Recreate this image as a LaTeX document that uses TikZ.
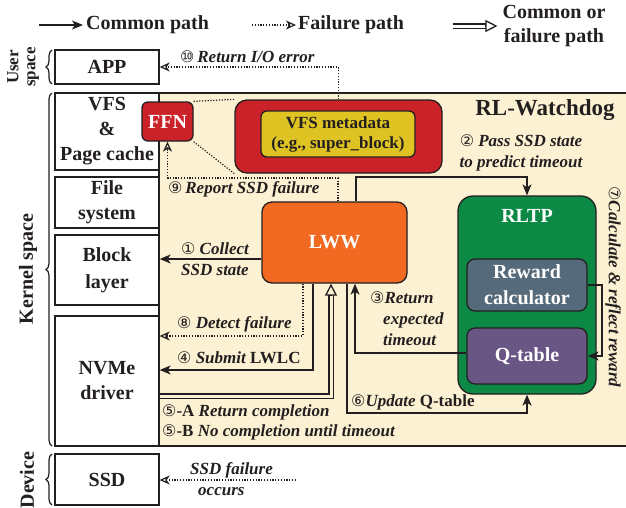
\documentclass[tikz,border=0pt]{standalone}
\usepackage{fontspec}
\setmainfont{Liberation Serif}
\newfontfamily\dvfont{DejaVu Sans}
\usetikzlibrary{arrows.meta,decorations.pathreplacing}
\definecolor{beige}{HTML}{FCF1D2}
\definecolor{linec}{HTML}{231F20}
\definecolor{redc}{HTML}{CB2128}
\definecolor{yelc}{HTML}{DFC322}
\definecolor{orac}{HTML}{F26A22}
\definecolor{grnc}{HTML}{0C8A45}
\definecolor{slatec}{HTML}{556A7A}
\definecolor{purc}{HTML}{6A5684}
\newcommand\cnum[1]{{\dvfont\mdseries\upshape\fontsize{16}{16}\selectfont #1}}
\begin{document}
\begin{tikzpicture}[x=1pt,y=-1pt,
  col/.style={draw=linec, line width=1.3pt, fill=white, font=\fontsize{20}{25}\selectfont\bfseries, align=center, inner sep=0pt, text=linec},
  rbox/.style={draw=linec, line width=1.3pt, rounded corners=8pt, text=white, font=\fontsize{20}{26}\selectfont\bfseries, align=center, inner sep=0pt},
  lab/.style={font=\fontsize{17}{21}\selectfont\bfseries\itshape, inner sep=0pt, text=linec},
  legt/.style={font=\fontsize{20}{24}\selectfont\bfseries, inner sep=0pt, text=linec},
  side/.style={font=\fontsize{20}{17}\selectfont\bfseries, inner sep=0pt, text=linec, align=center},
  conn/.style={line width=1.2pt, draw=linec, -{Stealth[length=11pt,width=9pt,inset=3pt]}},
  fail/.style={line width=1.2pt, draw=linec, dash pattern=on 1.2pt off 1.6pt, -{Stealth[open,length=10pt,width=9pt,inset=3pt]}},
  dotl/.style={line width=1.2pt, draw=linec, dash pattern=on 1.2pt off 1.6pt},
  dshaft/.style={draw=linec, line width=1.3pt, double=beige, double distance=3pt},
  dtip/.style={draw=linec, line width=1.3pt, -{Triangle[open,length=12pt,width=12pt]}},
  brace/.style={draw=linec, line width=1.2pt, decorate, decoration={brace, amplitude=6pt}}
]
\useasboundingbox (0,0) rectangle (626,507);
% legend
\node[legt, anchor=west] (lg1) at (86,25) {Common path};
\coordinate (lg1s) at (39,25);
\draw[conn, shorten >=3pt] (lg1s) -- (lg1.west);
\node[legt, anchor=west] (lg2) at (298,25) {Failure path};
\coordinate (lg2s) at (252,25);
\draw[fail, shorten >=2pt] (lg2s) -- (lg2.west);
\node[legt, align=center] (lg3) at (554,26) {Common or\\failure path};
\coordinate (lg3s) at (453,26);
\coordinate (lg3e) at ([xshift=-5pt]lg3.west);
\draw[dshaft, double=white] (lg3s) -- ([xshift=-11pt]lg3e);
\draw[dtip] ([xshift=-12pt]lg3e) -- (lg3e);
% side labels
\node[side, rotate=90, font=\fontsize{17}{17}\selectfont\bfseries] (us) at (23,67) {User\\space};
\node[side, rotate=90] (ks) at (28,269) {Kernel space};
\node[side, rotate=90] (dvc) at (27,480) {Device};
\draw[brace] (52,84) -- (52,50);
\draw[brace] (52,446) -- (52,93);
\draw[brace] (52,505) -- (52,454);
% beige region
\draw[fill=beige, draw=linec, line width=1.3pt] (159,93) rectangle (632,446);
% left column
\node[col, minimum width=104pt, minimum height=34pt] (app) at (107,67) {APP};
\node[col, minimum width=104pt, minimum height=77pt] (vfs) at (107,131.5) {VFS\\\&\\Page cache};
\node[col, minimum width=104pt, minimum height=51pt] (fs) at (107,202.5) {File\\system};
\node[col, minimum width=104pt, minimum height=70pt, font=\fontsize{20}{27}\selectfont\bfseries] (blk) at (107,270) {Block\\layer};
\node[col, minimum width=104pt, minimum height=130pt] (nvme) at (107,381) {NVMe\\driver};
\node[col, minimum width=104pt, minimum height=51pt] (ssd) at (107,479.5) {SSD};
% FFN and metadata
\node[rbox, fill=redc, minimum width=51pt, minimum height=39pt, rounded corners=6pt] (ffn) at (167.5,121.5) {FFN};
\node[rbox, fill=redc, minimum width=207pt, minimum height=73pt, rounded corners=12pt] (bigred) at (338.5,136.5) {};
\node[rbox, fill=yelc, minimum width=154pt, minimum height=46pt, rounded corners=6pt, text=linec, font=\fontsize{17}{20}\selectfont\bfseries] (meta) at (338,134) {VFS metadata\\(e.g., super\_block)};
\draw[dotl] (ffn.north east) -- (bigred.north west);
\draw[dotl] (ffn.south east) -- (bigred.south west);
% RL-Watchdog
\node[legt, font=\fontsize{23}{26}\selectfont\bfseries] (rlw) at (545,110) {RL-Watchdog};
\node[rbox, fill=orac, minimum width=145pt, minimum height=81pt, rounded corners=10pt] (lww) at (334.5,242.5) {LWW};
\node[rbox, fill=grnc, minimum width=138pt, minimum height=198pt, rounded corners=15pt] (rltp) at (527,295) {};
\node[rbox, draw=none, fill=none] (rltpt) at ([yshift=-21pt]rltp.north) {RLTP};
\node[rbox, fill=slatec, minimum width=120pt, minimum height=52pt] (rew) at (527,285) {Reward\\calculator};
\node[rbox, fill=purc, minimum width=120pt, minimum height=56pt] (qt) at (527,356) {Q-table};
% connectors
\draw[conn] (lww.west |- 0,259) -- (blk.east |- 0,259);
\draw[conn] (lww.north -| 356,0) -- (356,177) -- (527,177) -- (rltp.north);
\draw[conn] (qt.west |- 0,353) -- (355,353) -- (lww.south -| 355,0);
\draw[conn] (lww.south -| 313,0) -- (313,370) -- (nvme.east |- 0,370);
\coordinate (d5e) at (lww.south -| 331,0);
\draw[dshaft] (nvme.east |- 0,396) -- (331,396) -- ([yshift=-11pt]d5e);
\draw[dtip] ([yshift=-12pt]d5e) -- (d5e);
\draw[conn] (lww.south -| 347,0) -- (347,413) -- (527,413) -- (rltp.south);
\draw[conn] (rew.east) -- (602,285) -- (602,356) -- (qt.east);
\draw[fail] (lww.south -| 303,0) -- (303,336) -- (nvme.east |- 0,336);
\draw[fail] (lww.north -| 338,0) -- (338,178) -- (167.5,178) -- (ffn.south);
\draw[fail] (bigred.north) -- (bigred.north |- 0,67) -- (app.east);
\coordinate (sf) at (296,480);
\draw[fail] (sf) -- (ssd.east |- sf);
% labels
\node[lab, anchor=west] (l10) at (180,57) {\cnum{⑩}\,Return I/O error};
\node[lab, align=center] (l2) at (521,153) {\cnum{②} Pass SSD state\\to predict timeout};
\node[lab, align=left, anchor=west] (l3) at (370,319) {\cnum{③}Return\\\hspace*{13pt}expected\\\hspace*{13pt}timeout};
\node[lab, align=center] (l1) at (215,259) {\cnum{①} Collect\\SSD state};
\node[lab, anchor=west] (l8) at (177,324) {\cnum{⑧} Detect failure};
\node[lab, anchor=west] (l4) at (177,358) {\cnum{④} Submit \upshape LWLC};
\node[lab, anchor=west] (l5a) at (162,412) {\cnum{⑤}\upshape-A \itshape Return completion};
\node[lab, anchor=west] (l5b) at (162,432) {\cnum{⑤}\upshape-B \itshape No completion until timeout};
\node[lab, anchor=west] (l6) at (351,402) {\cnum{⑥}Update \upshape Q-table};
\node[lab, anchor=west] (l9) at (168,189) {\cnum{⑨}\,Report SSD failure};
\node[lab, rotate=-90] (l7) at (613,287) {\cnum{⑦}Calculate \& reflect reward};
\node[lab, align=left, anchor=west] (lsf) at (190,479) {SSD failure\\\hspace*{8pt}occurs};
\end{tikzpicture}
\end{document}
